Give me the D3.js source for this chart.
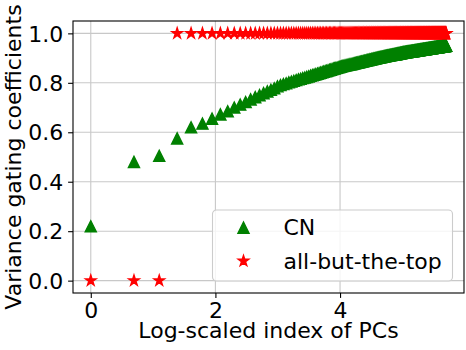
<!DOCTYPE html>
<html>
<head>
<meta charset="utf-8">
<script src="https://cdn.jsdelivr.net/npm/d3@7"></script>
<style>
  body { margin: 0; background: #fff; }
  text { font-family: "DejaVu Sans", sans-serif; fill: #000; }
</style>
</head>
<body>
<svg width="466" height="350"></svg>
<script>
// PC index (1..300), plotted on a log axis
var pcIndex = d3.range(1, 301);

// CN variance gating coefficients
var cnValues = [
  0.220,0.480,0.505,0.575,0.620,0.635,0.655,0.672,0.685,0.700,
  0.712,0.722,0.733,0.742,0.750,0.758,0.765,0.772,0.778,0.786,
  0.791,0.795,0.798,0.802,0.805,0.808,0.811,0.814,0.816,0.819,
  0.821,0.824,0.826,0.829,0.831,0.833,0.835,0.837,0.839,0.841,
  0.843,0.845,0.847,0.848,0.850,0.852,0.853,0.855,0.857,0.858,
  0.860,0.861,0.863,0.864,0.865,0.867,0.868,0.869,0.870,0.871,
  0.872,0.873,0.874,0.875,0.875,0.876,0.877,0.878,0.879,0.880,
  0.881,0.882,0.882,0.883,0.884,0.885,0.886,0.886,0.887,0.888,
  0.889,0.889,0.890,0.891,0.892,0.892,0.893,0.894,0.894,0.895,
  0.896,0.896,0.897,0.898,0.898,0.899,0.899,0.900,0.901,0.901,
  0.902,0.902,0.903,0.903,0.904,0.904,0.905,0.905,0.906,0.906,
  0.907,0.907,0.908,0.908,0.909,0.909,0.910,0.910,0.910,0.911,
  0.911,0.912,0.912,0.912,0.913,0.913,0.914,0.914,0.914,0.915,
  0.915,0.916,0.916,0.916,0.917,0.917,0.918,0.918,0.918,0.919,
  0.919,0.919,0.920,0.920,0.921,0.921,0.921,0.922,0.922,0.922,
  0.923,0.923,0.923,0.923,0.924,0.924,0.924,0.925,0.925,0.925,
  0.925,0.926,0.926,0.926,0.926,0.926,0.927,0.927,0.927,0.927,
  0.928,0.928,0.928,0.928,0.929,0.929,0.929,0.929,0.929,0.930,
  0.930,0.930,0.930,0.931,0.931,0.931,0.931,0.931,0.932,0.932,
  0.932,0.932,0.933,0.933,0.933,0.933,0.933,0.934,0.934,0.934,
  0.934,0.934,0.935,0.935,0.935,0.935,0.935,0.936,0.936,0.936,
  0.936,0.936,0.936,0.937,0.937,0.937,0.937,0.937,0.938,0.938,
  0.938,0.938,0.938,0.938,0.939,0.939,0.939,0.939,0.939,0.940,
  0.940,0.940,0.940,0.940,0.940,0.941,0.941,0.941,0.941,0.941,
  0.941,0.942,0.942,0.942,0.942,0.942,0.942,0.943,0.943,0.943,
  0.943,0.943,0.943,0.943,0.944,0.944,0.944,0.944,0.944,0.944,
  0.945,0.945,0.945,0.945,0.945,0.945,0.945,0.946,0.946,0.946,
  0.946,0.946,0.946,0.947,0.947,0.947,0.947,0.947,0.947,0.947,
  0.948,0.948,0.948,0.948,0.948,0.948,0.948,0.949,0.949,0.949,
  0.949,0.949,0.949,0.949,0.949,0.950,0.950,0.950,0.950,0.950
];

// all-but-the-top coefficients (30 rows of 10)
var abttValues = [
  0,0,0,1,1,1,1,1,1,1,
  1,1,1,1,1,1,1,1,1,1,
  1,1,1,1,1,1,1,1,1,1,
  1,1,1,1,1,1,1,1,1,1,
  1,1,1,1,1,1,1,1,1,1,
  1,1,1,1,1,1,1,1,1,1,
  1,1,1,1,1,1,1,1,1,1,
  1,1,1,1,1,1,1,1,1,1,
  1,1,1,1,1,1,1,1,1,1,
  1,1,1,1,1,1,1,1,1,1,
  1,1,1,1,1,1,1,1,1,1,
  1,1,1,1,1,1,1,1,1,1,
  1,1,1,1,1,1,1,1,1,1,
  1,1,1,1,1,1,1,1,1,1,
  1,1,1,1,1,1,1,1,1,1,
  1,1,1,1,1,1,1,1,1,1,
  1,1,1,1,1,1,1,1,1,1,
  1,1,1,1,1,1,1,1,1,1,
  1,1,1,1,1,1,1,1,1,1,
  1,1,1,1,1,1,1,1,1,1,
  1,1,1,1,1,1,1,1,1,1,
  1,1,1,1,1,1,1,1,1,1,
  1,1,1,1,1,1,1,1,1,1,
  1,1,1,1,1,1,1,1,1,1,
  1,1,1,1,1,1,1,1,1,1,
  1,1,1,1,1,1,1,1,1,1,
  1,1,1,1,1,1,1,1,1,1,
  1,1,1,1,1,1,1,1,1,1,
  1,1,1,1,1,1,1,1,1,1,
  1,1,1,1,1,1,1,1,1,1
];

var xTicks = [0, 2, 4];
var yTicks = [0, 0.2, 0.4, 0.6, 0.8, 1.0];
var seriesNames = ["CN", "all-but-the-top"];

var svg = d3.select("svg"),
    margin = {left: 73, top: 21, right: 2, bottom: 57},
    width = +svg.attr("width") - margin.left - margin.right,
    height = +svg.attr("height") - margin.top - margin.bottom;

var xs = pcIndex.map(function(i) { return Math.log(i); });
var xMax = d3.max(xs);

var x = d3.scaleLinear()
    .domain([-0.05 * xMax, xMax * 1.05])
    .range([0, width]);
var y = d3.scaleLinear()
    .domain([-0.05, 1.05])
    .range([height, 0]);

var g = svg.append("g")
    .attr("transform", "translate(" + margin.left + "," + margin.top + ")");

// grid
g.append("g").selectAll("line")
    .data(xTicks).enter().append("line")
    .attr("x1", function(d) { return x(d); }).attr("x2", function(d) { return x(d); })
    .attr("y1", 0).attr("y2", height)
    .attr("stroke", "#c8c8c8").attr("stroke-width", 1.1);
g.append("g").selectAll("line")
    .data(yTicks).enter().append("line")
    .attr("y1", function(d) { return y(d); }).attr("y2", function(d) { return y(d); })
    .attr("x1", 0).attr("x2", width)
    .attr("stroke", "#c8c8c8").attr("stroke-width", 1.1);

// marker shapes (matplotlib style)
var msize = 11.1;
function triangle(s) {
  var h = s / 2;
  return "M0," + (-h) + "L" + h + "," + h + "L" + (-h) + "," + h + "Z";
}
function star(s) {
  var r = s / 2, ri = r * 0.381966, p = [];
  for (var k = 0; k < 10; k++) {
    var a = -Math.PI / 2 + k * Math.PI / 5, rr = k % 2 ? ri : r;
    p.push([rr * Math.cos(a), rr * Math.sin(a)]);
  }
  return "M" + p.map(function(q) { return q[0].toFixed(2) + "," + q[1].toFixed(2); }).join("L") + "Z";
}

// CN
g.append("g").selectAll("path")
    .data(pcIndex).enter().append("path")
    .attr("transform", function(d, i) { return "translate(" + x(xs[i]) + "," + y(cnValues[i]) + ")"; })
    .attr("d", triangle(msize))
    .attr("fill", "#008000").attr("stroke", "#008000").attr("stroke-width", 1.39);

// all-but-the-top
g.append("g").selectAll("path")
    .data(pcIndex).enter().append("path")
    .attr("transform", function(d, i) { return "translate(" + x(xs[i]) + "," + y(abttValues[i]) + ")"; })
    .attr("d", star(msize))
    .attr("fill", "#ff0000").attr("stroke", "#ff0000").attr("stroke-width", 1.39);

// axes
var xAxis = g.append("g")
    .attr("transform", "translate(0," + height + ")")
    .call(d3.axisBottom(x).tickValues(xTicks).tickFormat(d3.format("d")).tickSize(4.9).tickPadding(4.9));
var yAxis = g.append("g")
    .call(d3.axisLeft(y).tickValues(yTicks).tickFormat(d3.format(".1f")).tickSize(4.9).tickPadding(4.9));
[xAxis, yAxis].forEach(function(a) {
  a.select(".domain").remove();
  a.selectAll(".tick line").attr("stroke", "#000").attr("stroke-width", 1.1);
  a.selectAll(".tick text").attr("font-size", 22).attr("font-family", "DejaVu Sans");
});
xAxis.selectAll(".tick text").attr("dy", null).attr("y", 24.5);
yAxis.selectAll(".tick text").attr("dy", "0.35em");

// spines
g.append("rect")
    .attr("width", width).attr("height", height)
    .attr("fill", "none").attr("stroke", "#000").attr("stroke-width", 1.1);

// axis labels
svg.append("text")
    .attr("x", margin.left + width / 2).attr("y", 338)
    .attr("text-anchor", "middle").attr("font-size", 22)
    .text("Log-scaled index of PCs");
svg.append("text")
    .attr("transform", "translate(21," + (margin.top + height / 2) + ") rotate(-90)")
    .attr("text-anchor", "middle").attr("font-size", 22)
    .text("Variance gating coefficients");

// legend
var lg = svg.append("g").attr("transform", "translate(212.5,210)");
lg.append("rect")
    .attr("width", 240).attr("height", 71).attr("rx", 4)
    .attr("fill", "#fff").attr("fill-opacity", 0.8)
    .attr("stroke", "#cccccc").attr("stroke-width", 1.1);
var shapes = [triangle(msize), star(msize)];
var colors = ["#008000", "#ff0000"];
var items = lg.selectAll(".item")
    .data(seriesNames).enter().append("g")
    .attr("transform", function(d, i) { return "translate(0," + (17.7 + i * 33.3) + ")"; });
items.append("path")
    .attr("transform", "translate(31,0)")
    .attr("d", function(d, i) { return shapes[i]; })
    .attr("fill", function(d, i) { return colors[i]; })
    .attr("stroke", function(d, i) { return colors[i]; })
    .attr("stroke-width", 1.39);
items.append("text")
    .attr("x", 71).attr("dy", "0.35em")
    .attr("font-size", 22)
    .text(function(d) { return d; });
</script>
</body>
</html>
